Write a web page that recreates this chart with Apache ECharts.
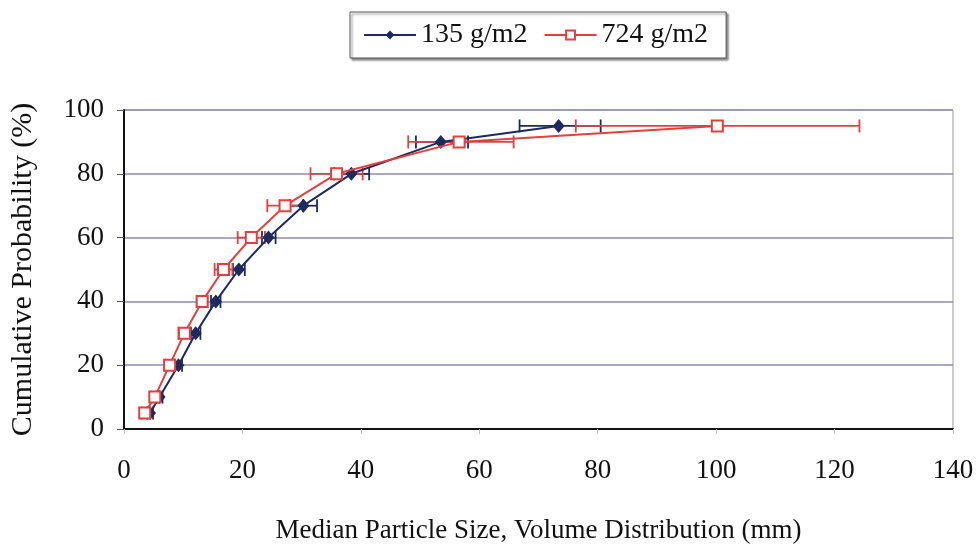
<!DOCTYPE html>
<html>
<head>
<meta charset="utf-8">
<script src="https://cdn.jsdelivr.net/npm/echarts@6/dist/echarts.min.js"></script>
<style>
  html, body { margin: 0; padding: 0; background: #fff; }
  #chart { width: 978px; height: 549px; }
</style>
</head>
<body>
<div id="chart"></div>
<script>
// cumulative probability levels (%)
var probLevels = [5, 10, 20, 30, 40, 50, 60, 70, 80, 90, 95]
// 135 g/m2 median size and error bar ends (mm)
var size135 = [4.4, 6.0, 9.2, 12.1, 15.5, 19.4, 24.4, 30.3, 38.4, 53.5, 73.4]
var low135 = [3.9, 5.5, 8.6, 11.3, 14.7, 18.4, 23.3, 28.0, 35.5, 49.3, 66.8]
var high135 = [4.9, 6.5, 9.8, 12.9, 16.3, 20.4, 25.6, 32.6, 41.4, 58.1, 80.5]
// 724 g/m2
var size724 = [3.5, 5.2, 7.7, 10.2, 13.2, 16.8, 21.5, 27.2, 35.9, 56.6, 100.2]
var low724 = [3.0, 4.6, 7.0, 9.2, 12.3, 15.3, 19.2, 24.2, 31.5, 48.0, 76.3]
var high724 = [4.0, 5.8, 8.4, 11.2, 14.1, 18.3, 23.8, 30.2, 40.3, 65.8, 124.2]

var seriesNames = ["135 g/m2", "724 g/m2"]
var blue = "#1c2a5e"
var red = "#e2403c"
var serif = "'Liberation Serif', 'Times New Roman', serif"

function pairs(xs) {
  return xs.map(function (x, i) { return [x, probLevels[i]] })
}
function bars(lo, hi) {
  return lo.map(function (l, i) { return [l, hi[i], probLevels[i]] })
}
// horizontal error bar with caps
function errorBar(color) {
  return function (params, api) {
    var a = api.coord([api.value(0), api.value(2)])
    var b = api.coord([api.value(1), api.value(2)])
    var h = 6.5
    var style = { stroke: color, lineWidth: 1.8 }
    return {
      type: "group",
      children: [
        { type: "line", shape: { x1: a[0], y1: a[1], x2: b[0], y2: b[1] }, style: style },
        { type: "line", shape: { x1: a[0], y1: a[1] - h, x2: a[0], y2: a[1] + h }, style: style },
        { type: "line", shape: { x1: b[0], y1: b[1] - h, x2: b[0], y2: b[1] + h }, style: style },
      ],
    }
  }
}

var myChart = echarts.init(document.getElementById("chart"))
var option = {
  animation: false,
  textStyle: { fontFamily: serif },
  legend: {
    data: seriesNames,
    left: 350,
    top: 12,
    padding: [9, 18, 9, 13],
    itemWidth: 52,
    itemHeight: 11,
    itemGap: 16,
    borderColor: "#555",
    borderWidth: 1,
    backgroundColor: "#fff",
    shadowColor: "rgba(0,0,0,0.45)",
    shadowBlur: 2,
    shadowOffsetX: 2,
    shadowOffsetY: 2,
    textStyle: { fontFamily: serif, fontSize: 28, color: "#111" },
  },
  grid: {
    left: 122,
    right: 25,
    top: 110,
    bottom: 116,
    show: true,
    borderColor: "#999",
    borderWidth: 1,
  },
  xAxis: {
    type: "value",
    min: 0,
    max: 140,
    interval: 20,
    name: "Median Particle Size, Volume Distribution (mm)",
    nameLocation: "middle",
    nameGap: 88,
    nameTextStyle: { fontFamily: serif, fontSize: 27, color: "#111" },
    axisLine: { lineStyle: { color: "#111", width: 2 } },
    axisTick: { show: true, length: 5, lineStyle: { color: "#bbb" } },
    axisLabel: { margin: 28, fontFamily: serif, fontSize: 27, color: "#111" },
    splitLine: { show: false },
  },
  yAxis: {
    type: "value",
    min: 0,
    max: 100,
    interval: 20,
    name: "Cumulative Probability (%)",
    nameLocation: "middle",
    nameGap: 86,
    nameTextStyle: { fontFamily: serif, fontSize: 30, color: "#111" },
    axisLine: { lineStyle: { color: "#111", width: 2 } },
    axisTick: { show: true, length: 7, lineStyle: { color: "#555" } },
    axisLabel: { margin: 20, fontFamily: serif, fontSize: 27, color: "#111" },
    splitLine: { lineStyle: { color: "#8c8cb4", width: 1.5 } },
  },
  series: [
    {
      name: seriesNames[0] + " err",
      type: "custom",
      renderItem: errorBar(blue),
      data: bars(low135, high135),
      z: 2,
    },
    {
      name: seriesNames[1] + " err",
      type: "custom",
      renderItem: errorBar(red),
      data: bars(low724, high724),
      z: 3,
    },
    {
      name: seriesNames[0],
      type: "line",
      data: pairs(size135),
      symbol: "diamond",
      symbolSize: [12, 14],
      lineStyle: { color: blue, width: 2 },
      itemStyle: { color: blue },
      z: 4,
    },
    {
      name: seriesNames[1],
      type: "line",
      data: pairs(size724),
      symbol: "emptyRect",
      symbolSize: 11,
      lineStyle: { color: red, width: 2 },
      itemStyle: { color: red, borderWidth: 2 },
      z: 5,
    },
  ],
}
myChart.setOption(option)
</script>
</body>
</html>
